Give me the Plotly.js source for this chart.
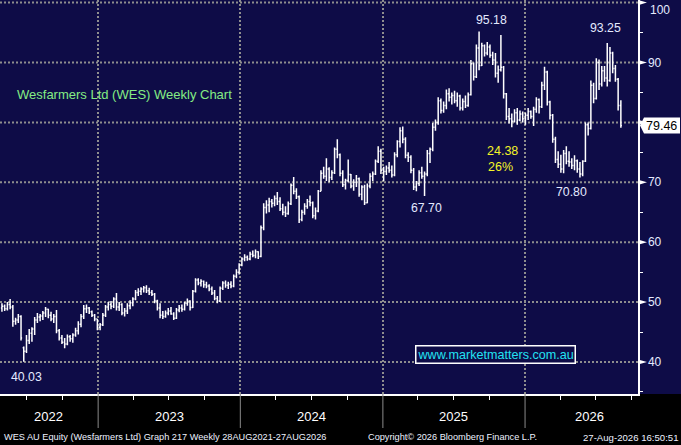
<!DOCTYPE html>
<html>
<head>
<meta charset="utf-8">
<script src="https://cdn.plot.ly/plotly-3.0.1.min.js"></script>
<style>
html,body{margin:0;padding:0;background:#000;}
#chart{width:681px;height:445px;}
</style>
</head>
<body>
<div id="chart"></div>
<script>
// Weekly bars, first week ending 29 Apr 2022
const firstWeek = '2022-04-29';

const openP = [49.0,49.3,48.9,49.6,49.2,46.8,47.0,47.6,42.4,41.8,43.6,44.8,45.5,47.0,47.5,47.7,48.2,48.8,47.8,47.2,
47.6,45.2,44.0,43.3,43.0,44.2,43.9,44.5,45.2,46.3,47.6,48.9,49.0,48.4,47.8,47.2,45.8,46.2,47.8,49.2,
49.6,49.3,50.5,49.2,49.6,48.2,48.5,49.4,49.9,50.5,51.6,51.8,52.2,52.4,51.9,51.6,51.3,50.2,49.0,47.8,
47.6,48.2,48.5,48.0,47.3,48.7,49.0,48.8,49.8,50.2,49.1,51.8,53.7,53.2,53.5,52.9,52.7,52.2,51.5,50.6,
50.2,52.3,53.2,52.8,53.0,52.7,54.3,55.0,56.2,57.2,57.5,57.2,58.0,57.8,58.4,57.6,62.4,65.8,66.2,66.8,
66.5,67.3,66.8,65.6,65.0,64.8,66.4,69.5,68.5,67.6,63.8,65.0,66.0,66.8,66.6,64.4,65.2,68.5,71.5,71.0,
72.2,70.8,71.6,75.5,74.6,71.5,69.6,70.3,71.3,69.4,70.0,70.6,68.0,69.2,66.6,69.4,71.0,71.4,73.5,75.2,
72.0,71.8,72.4,72.0,71.2,74.6,76.8,78.6,77.2,74.5,74.2,72.0,69.2,69.8,71.6,71.0,71.4,74.8,75.5,79.2,
80.0,83.6,82.0,82.8,84.8,84.2,84.5,83.6,84.4,82.4,83.5,82.8,84.6,89.8,87.6,92.4,89.5,92.8,91.6,92.6,
91.2,90.4,88.2,88.8,89.2,84.8,81.0,80.6,80.2,81.6,80.4,81.4,80.6,81.2,81.8,81.0,82.2,83.8,82.6,86.2,
88.4,83.4,81.2,77.2,73.8,73.0,72.2,74.8,73.5,73.4,72.8,73.6,72.2,71.4,73.5,79.6,79.0,86.2,84.0,90.0,
86.4,88.6,87.4,87.0,91.6,89.0,87.2,82.8];

const highP = [49.8,49.6,50.0,50.5,49.5,47.4,48.0,47.8,42.6,44.5,45.5,45.8,47.5,48.2,48.0,48.5,49.2,48.9,48.4,48.0,
48.7,45.5,44.5,44.0,44.6,44.5,44.8,45.7,46.8,48.0,49.5,49.6,49.2,48.6,48.0,47.2,46.5,48.2,49.5,50.0,
50.2,50.8,51.5,50.0,49.8,49.0,49.8,50.3,50.8,52.0,52.3,52.5,52.7,52.8,52.4,52.0,51.5,50.4,49.8,48.5,
48.6,49.0,49.2,48.3,49.0,49.5,49.6,50.0,50.6,50.3,52.0,54.0,54.0,53.8,53.6,53.4,53.0,52.6,52.0,51.0,
52.6,53.5,53.6,53.4,53.5,54.6,55.5,56.5,57.5,58.0,57.8,58.4,58.6,58.8,58.5,62.8,66.5,67.0,67.4,67.2,
67.8,68.4,67.5,66.4,66.0,66.8,69.8,70.9,69.0,67.8,65.4,66.5,67.2,67.8,66.8,65.8,68.7,72.0,72.6,74.0,
72.5,72.0,75.8,77.2,74.8,72.0,70.6,73.8,71.4,70.5,71.2,70.8,69.5,69.6,69.8,71.5,71.8,73.8,76.0,75.6,
72.6,72.8,73.4,72.8,75.0,77.0,79.2,79.3,77.5,75.0,74.5,72.4,70.2,72.0,72.6,71.8,75.4,75.8,79.9,80.5,
84.2,84.0,83.5,85.5,85.7,85.0,85.3,85.0,84.6,84.0,84.5,85.0,90.4,90.0,93.0,95.18,93.3,93.0,93.4,93.0,
91.8,91.6,89.5,94.6,89.4,84.9,82.4,81.5,82.2,82.4,82.0,81.8,81.6,82.4,82.0,82.6,84.2,84.0,86.8,89.3,
88.6,83.6,81.4,77.6,75.2,74.6,75.4,76.0,75.2,74.0,74.5,73.8,73.4,73.7,80.0,80.0,87.0,86.6,90.7,90.5,
89.4,89.4,93.25,92.6,91.8,89.6,87.4,83.7];

const lowP = [48.4,48.5,48.6,48.8,45.9,46.2,46.5,43.6,40.03,41.5,43.0,43.4,44.5,46.5,46.8,47.0,47.5,47.3,46.8,46.5,
44.8,43.6,43.0,42.3,42.8,43.4,43.2,44.2,44.6,45.8,47.2,48.2,48.0,47.5,46.8,45.3,45.3,46.0,47.5,48.6,
48.8,49.0,48.6,48.5,47.8,47.6,48.0,48.8,49.3,50.3,51.0,51.2,51.6,51.5,51.2,51.0,49.8,48.6,47.3,47.2,
47.4,47.8,47.9,47.0,47.2,48.3,48.4,48.6,49.4,48.6,49.0,51.6,52.8,52.6,52.4,52.3,51.8,51.2,50.3,49.8,
50.0,52.0,52.4,52.2,52.3,52.5,54.0,54.6,56.0,56.8,56.9,57.0,57.5,57.3,57.2,57.5,62.0,64.8,65.0,65.8,
66.0,66.2,65.2,64.5,64.2,64.6,66.2,68.0,67.2,63.2,63.5,64.6,65.6,66.0,64.0,63.8,65.0,68.5,70.6,70.2,
70.0,70.4,71.4,74.0,71.0,69.2,68.8,70.0,69.0,68.6,69.2,67.6,67.0,66.2,66.5,69.0,70.2,71.2,73.2,71.4,
70.2,71.2,71.6,70.8,71.0,74.2,75.8,76.5,74.0,73.4,71.5,68.7,68.5,69.4,70.6,67.7,71.0,73.2,75.2,78.6,
79.6,81.5,81.6,82.2,83.5,83.0,83.2,82.6,82.0,82.0,82.4,82.6,84.5,87.0,87.4,88.7,89.4,91.0,91.2,90.8,
89.6,87.5,86.6,88.5,84.0,80.4,79.8,79.2,80.0,79.6,80.2,80.0,79.6,80.4,80.6,79.4,81.6,81.5,82.4,85.4,
82.8,80.5,76.6,73.2,72.4,71.6,71.5,73.0,72.6,72.2,72.0,71.6,70.8,71.0,73.4,77.8,78.8,83.2,83.8,85.4,
86.0,86.8,86.0,86.8,88.2,86.8,82.0,79.1];

const closeP = [49.3,48.9,49.6,49.2,46.8,47.0,47.6,44.0,41.8,43.6,44.8,45.5,47.0,47.5,47.7,48.2,48.8,47.8,47.2,47.6,
45.2,44.0,43.3,43.0,44.2,43.9,44.5,45.2,46.3,47.6,48.9,49.0,48.4,47.8,47.2,45.8,46.2,47.8,49.2,49.6,
49.3,50.5,49.2,49.6,48.2,48.5,49.4,49.9,50.5,51.6,51.8,52.2,52.4,51.9,51.6,51.3,50.2,49.0,47.8,47.6,
48.2,48.5,48.0,47.3,48.7,49.0,48.8,49.8,50.2,49.1,51.8,53.7,53.2,53.5,52.9,52.7,52.2,51.5,50.6,50.2,
52.3,53.2,52.8,53.0,52.7,54.3,55.0,56.2,57.2,57.5,57.2,58.0,57.8,58.4,57.6,62.4,65.8,66.2,66.8,66.5,
67.3,66.8,65.6,65.0,64.8,66.4,69.5,68.5,67.6,63.8,65.0,66.0,66.8,66.6,64.4,65.2,68.5,71.5,71.0,72.2,
70.8,71.6,75.5,74.6,71.5,69.6,70.3,71.3,69.4,70.0,70.6,68.0,69.2,66.6,69.4,71.0,71.4,73.5,75.2,72.0,
71.8,72.4,72.0,71.2,74.6,76.8,78.6,77.2,74.5,74.2,72.0,69.2,69.8,71.6,71.0,71.4,74.8,75.5,79.2,80.0,
83.6,82.0,82.8,84.8,84.2,84.5,83.6,84.4,82.4,83.5,82.8,84.6,89.8,87.6,92.4,89.5,92.8,91.6,92.6,91.2,
90.4,88.2,88.8,89.2,84.8,81.0,80.6,80.2,81.6,80.4,81.4,80.6,81.2,81.8,81.0,82.2,83.8,82.6,86.2,88.4,
83.4,81.2,77.2,73.8,73.0,72.2,74.8,73.5,73.4,72.8,73.6,72.2,71.4,73.5,79.6,79.0,86.2,84.0,90.0,86.4,
88.6,87.4,87.0,91.6,89.0,87.2,82.8,79.46];

const yearLabels = ['2022','2023','2024','2025','2026'];
const yearLabelDates = ['2022-08-26','2023-07-03','2024-07-02','2025-07-02','2026-06-15'];
const yearBounds = ['2023-01-01','2024-01-01','2025-01-01','2026-01-01'];
const priceTicks = [40,50,60,70,80,90,100];
const axisLabelTicks = [40,50,60,70,90];
const lastPrice = 79.46;

const peakLabelText = ['95.18','93.25','67.70','70.80','40.03'];
const peakLabelValue = [97.1,95.75,65.7,68.4,37.5];
const moveLabels = ['24.38','26%'];

// build weekly dates
const dates = [];
{
  const d0 = new Date(firstWeek + 'T00:00:00Z');
  for (let i = 0; i < closeP.length; i++) {
    const d = new Date(d0.getTime() + i * 7 * 86400000);
    dates.push(d.toISOString().slice(0,10));
  }
}

const navy = '#0e0c47';
const gridCol = '#8e8e8e';
const lblCol = '#e4eaff';
const arial = 'Liberation Sans, Arial, sans-serif';
const plotW = 638;
const P = px => px / plotW;   // pixel -> paper x

const trace = {
  type: 'ohlc',
  x: dates, open: openP, high: highP, low: lowP, close: closeP,
  increasing: {line: {color: '#ffffff', width: 1.5}},
  decreasing: {line: {color: '#ffffff', width: 1.5}},
  tickwidth: 0.4,
  hoverinfo: 'skip',
  showlegend: false
};

const yr = [34.66, 100.43];
const pxPerUnit = 394 / (yr[1] - yr[0]);

const shapes = [];
// black bottom band
shapes.push({type:'rect', xref:'paper', yref:'paper', x0:-0.01, x1:1.1, y0:-0.2, y1:0,
  fillcolor:'#000', line:{width:0}, layer:'below'});
// horizontal dotted grid lines
priceTicks.forEach(v => shapes.push({type:'line', xref:'paper', yref:'y', x0:0, x1:1, y0:v, y1:v,
  line:{color:gridCol, width:2, dash:'2px,2px'}, layer:'below'}));
// year separators in bottom band
yearBounds.forEach(d => shapes.push({type:'line', xref:'x', yref:'paper', x0:d, x1:d,
  y0:-34/394, y1:0, line:{color:'#8a8a8a', width:1}}));
// triangles for major ticks
priceTicks.forEach(v => {
  const w = P(9), h = 2.6/pxPerUnit;
  shapes.push({type:'path', xref:'paper', yref:'y',
    path:`M 1,${v+h} L ${1+w},${v} L 1,${v-h} Z`, fillcolor:'#ffffff', line:{width:0}});
});
// last price tag
{
  const h = 8/pxPerUnit, a = P(2), b = P(6), e = P(680);
  shapes.push({type:'path', xref:'paper', yref:'y',
    path:`M ${1+a},${lastPrice} L ${1+b},${lastPrice+h} L ${e},${lastPrice+h} L ${e},${lastPrice-h} L ${1+b},${lastPrice-h} Z`,
    fillcolor:'#ffffff', line:{width:0}});
}

const peakLabelPx = [491, 605, 426, 571, 26];

const annotations = [];
yearLabels.forEach((t,i) => annotations.push({text:t, x:yearLabelDates[i], xref:'x', y:-22/394, yref:'paper',
  showarrow:false, xanchor:'center', yanchor:'middle', font:{family:arial, size:13, color:'#ffffff'}}));
peakLabelText.forEach((t,i) => annotations.push({text:t, x:P(peakLabelPx[i]), y:peakLabelValue[i], xref:'paper', yref:'y',
  showarrow:false, xanchor:'center', yanchor:'middle', font:{family:arial, size:12.3, color:lblCol}}));
annotations.push({text:moveLabels[0], x:P(502.5), y:75.2, xref:'paper', yref:'y', showarrow:false,
  xanchor:'center', yanchor:'middle', font:{family:arial, size:12.5, color:'#f4f428'}});
annotations.push({text:moveLabels[1], x:P(486), y:72.55, xref:'paper', yref:'y', showarrow:false,
  xanchor:'left', yanchor:'middle', font:{family:arial, size:12.5, color:'#f4f428'}});
annotations.push({text:'Wesfarmers Ltd (WES) Weekly Chart', x:P(15), y:84.7, xref:'paper', yref:'y',
  showarrow:false, xanchor:'left', yanchor:'middle', font:{family:arial, size:13, color:'#84ec84'}});
annotations.push({text:'www.marketmatters.com.au', x:P(495), y:41.25, xref:'paper', yref:'y',
  showarrow:false, xanchor:'center', yanchor:'middle', bgcolor:navy, bordercolor:'#ffffff', borderwidth:1.5,
  borderpad:1, font:{family:arial, size:12.6, color:'#22e2f2'}});
annotations.push({text:'100', x:P(648), y:98.8, xref:'paper', yref:'y', showarrow:false,
  xanchor:'left', yanchor:'middle', font:{family:arial, size:12, color:lblCol}});
annotations.push({text:lastPrice.toFixed(2), x:P(661.5), y:lastPrice, xref:'paper', yref:'y', showarrow:false,
  xanchor:'center', yanchor:'middle', font:{family:arial, size:12.5, color:'#000000'}});
// footer
const footY = -43/394;
annotations.push({text:'WES AU Equity (Wesfarmers Ltd) Graph 217 Weekly 28AUG2021-27AUG2026', x:P(2), y:footY,
  xref:'paper', yref:'paper', showarrow:false, xanchor:'left', yanchor:'middle', font:{family:arial, size:9.2, color:'#eef2ff'}});
annotations.push({text:'Copyright© 2026 Bloomberg Finance L.P.', x:P(366), y:footY,
  xref:'paper', yref:'paper', showarrow:false, xanchor:'left', yanchor:'middle', font:{family:arial, size:9.2, color:'#eef2ff'}});
annotations.push({text:'27-Aug-2026 16:50:51', x:P(680), y:footY,
  xref:'paper', yref:'paper', showarrow:false, xanchor:'right', yanchor:'middle', font:{family:arial, size:9.6, color:'#eef2ff'}});

const layout = {
  width: 681, height: 445,
  margin: {l:0, r:43, t:0, b:51, pad:0},
  paper_bgcolor: navy, plot_bgcolor: navy,
  showlegend: false,
  dragmode: false,
  xaxis: {
    type:'date', range:['2022-04-24','2026-10-18'],
    rangeslider:{visible:false},
    tick0:'2023-01-01', dtick:'M12',
    showgrid:true, gridcolor:gridCol, gridwidth:2, griddash:'2px,2px',
    showticklabels:false, ticks:'', zeroline:false,
    showline:true, linecolor:'#ffffff', linewidth:1.5,
    minor:{tick0:'2022-01-01', dtick:'M3', ticks:'outside', ticklen:4, tickcolor:'#ffffff', tickwidth:1, showgrid:false},
    fixedrange:true
  },
  yaxis: {
    side:'right', range:yr,
    tickvals:axisLabelTicks, ticktext:axisLabelTicks.map(String),
    showgrid:false, zeroline:false,
    ticks:'outside', ticklen:6, tickcolor:'rgba(0,0,0,0)',
    tickfont:{family:arial, size:12, color:lblCol},
    showline:true, linecolor:'#ffffff', linewidth:1.5,
    minor:{dtick:5, tick0:0, ticks:'outside', ticklen:3, tickcolor:'#ffffff', tickwidth:1, showgrid:false},
    fixedrange:true
  },
  shapes: shapes,
  annotations: annotations
};

Plotly.newPlot('chart', [trace], layout, {staticPlot:true, displayModeBar:false});
</script>
</body>
</html>
